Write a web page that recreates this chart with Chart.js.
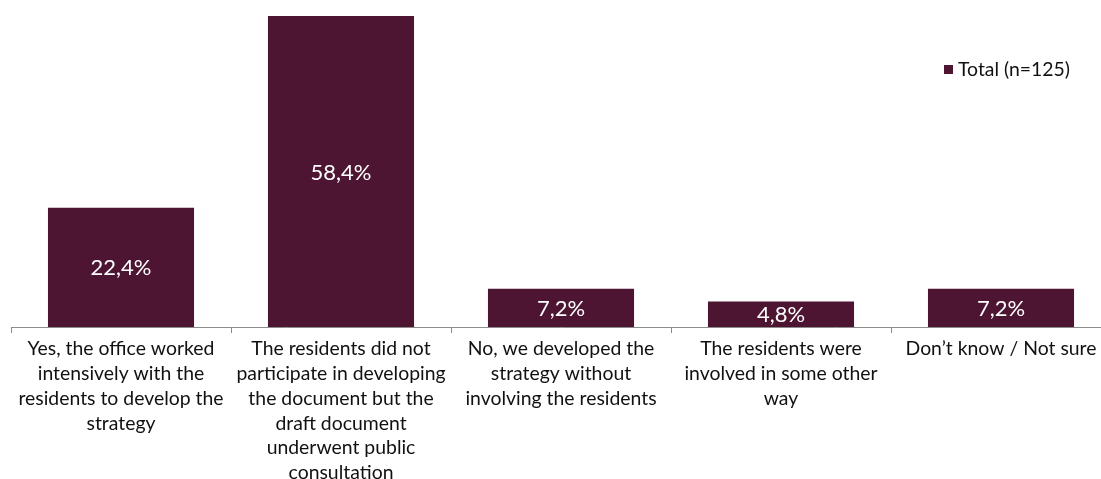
<!DOCTYPE html>
<html>
<head>
<meta charset="utf-8">
<script src="https://cdn.jsdelivr.net/npm/chart.js@4/dist/chart.umd.min.js"></script>
<style>
  html, body { margin: 0; padding: 0; background: #fff; overflow: hidden; }
  #wrap { width: 1111px; height: 479px; position: relative; }
</style>
</head>
<body>
<div id="wrap"><canvas id="c"></canvas></div>
<script>
const categories = [
  ["Yes, the office worked", "intensively with the", "residents to develop the", "strategy"],
  ["The residents did not", "participate in developing", "the document but the", "draft document", "underwent public", "consultation"],
  ["No, we developed the", "strategy without", "involving the residents"],
  ["The residents were", "involved in some other", "way"],
  ["Don\u2019t know / Not sure"]
];
const seriesName = "Total (n=125)";
const totals = [22.4, 58.4, 7.2, 4.8, 7.2];

const FONT = "Lato, 'Open Sans', sans-serif";
const BAR = "#4E1533";

const valueLabels = {
  id: 'valueLabels',
  afterDatasetsDraw(chart) {
    const ctx = chart.ctx;
    const meta = chart.getDatasetMeta(0);
    ctx.save();
    ctx.fillStyle = '#ffffff';
    ctx.font = "22px " + FONT;
    ctx.textAlign = 'center';
    ctx.textBaseline = 'middle';
    meta.data.forEach((bar, i) => {
      const v = chart.data.datasets[0].data[i];
      const txt = v.toFixed(1).replace('.', ',') + '%';
      ctx.fillText(txt, bar.x, (bar.y + bar.base) / 2 + 1);
    });
    ctx.restore();
  }
};

const sideLegend = {
  id: 'sideLegend',
  afterDraw(chart) {
    const ctx = chart.ctx;
    const ds = chart.data.datasets[0];
    ctx.save();
    ctx.fillStyle = ds.backgroundColor;
    ctx.fillRect(944, 65, 9, 9);
    ctx.fillStyle = '#111111';
    ctx.font = "19.4px " + FONT;
    ctx.textAlign = 'left';
    ctx.textBaseline = 'middle';
    ctx.fillText(ds.label, 958, 70);
    ctx.restore();
  }
};

new Chart(document.getElementById('c'), {
  type: 'bar',
  data: {
    labels: categories,
    datasets: [{
      label: seriesName,
      data: totals,
      backgroundColor: BAR,
      borderWidth: 0,
      categoryPercentage: 1,
      barPercentage: 0.664
    }]
  },
  options: {
    responsive: true,
    maintainAspectRatio: false,
    animation: false,
    layout: { padding: { left: 11, right: 0, top: 0, bottom: 0 } },
    plugins: {
      legend: { display: false },
      tooltip: { enabled: false }
    },
    scales: {
      y: {
        display: false,
        min: 0,
        max: 61.4
      },
      x: {
        afterFit(scale) { scale.height = 152; },
        border: { display: true, color: '#8c8c8c', width: 1 },
        grid: {
          offset: true,
          drawOnChartArea: false,
          drawTicks: true,
          tickLength: 6,
          color: '#8c8c8c'
        },
        ticks: {
          autoSkip: false,
          maxRotation: 0,
          minRotation: 0,
          padding: 3,
          color: '#111111',
          font: { family: FONT, size: 19.4, lineHeight: 1.285 }
        }
      }
    }
  },
  plugins: [valueLabels, sideLegend]
});
</script>
</body>
</html>
